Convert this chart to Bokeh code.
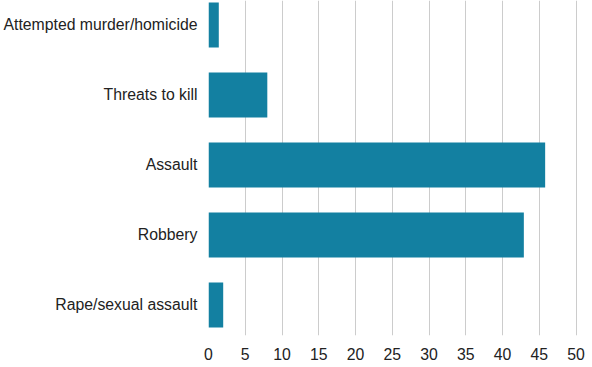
from bokeh.plotting import figure
from bokeh.models import Range1d, FixedTicker, ColumnDataSource
from bokeh.embed import file_html
from bokeh.resources import INLINE

categories = ["Attempted murder/homicide", "Threats to kill", "Assault", "Robbery", "Rape/sexual assault"]
values = [1.4, 8, 45.8, 42.9, 2]
x_ticks = [0, 5, 10, 15, 20, 25, 30, 35, 40, 45, 50]

positions = list(range(len(categories)))
source = ColumnDataSource(dict(pos=positions, val=values, cat=categories))

p = figure(width=592, height=367, output_backend="svg", toolbar_location=None,
           x_range=Range1d(0, 50.2), y_range=Range1d(4.436, -0.35),
           min_border_left=208, min_border_right=15, min_border_top=0, min_border_bottom=32)

p.hbar(y="pos", right="val", left=0, height=0.643, source=source,
       fill_color="#1380A1", line_color=None)

p.outline_line_color = None
p.background_fill_color = "white"
p.border_fill_color = "white"

p.ygrid.grid_line_color = None
p.xgrid.grid_line_color = "#cccccc"
p.xgrid.grid_line_width = 1

p.xaxis.ticker = FixedTicker(ticks=x_ticks)
p.xaxis.axis_line_color = None
p.xaxis.major_tick_line_color = None
p.xaxis.minor_tick_line_color = None
p.xaxis.major_tick_out = 0
p.xaxis.major_label_standoff = 12
p.xaxis.major_label_text_font = "Liberation Sans"
p.xaxis.major_label_text_font_size = "15.8px"
p.xaxis.major_label_text_color = "#222222"

p.yaxis.ticker = FixedTicker(ticks=positions)
p.yaxis.major_label_overrides = {i: c for i, c in zip(positions, categories)}
p.yaxis.axis_line_color = None
p.yaxis.major_tick_line_color = None
p.yaxis.minor_tick_line_color = None
p.yaxis.major_tick_out = 0
p.yaxis.major_label_standoff = 11
p.yaxis.major_label_text_font = "Liberation Sans"
p.yaxis.major_label_text_font_size = "15.8px"
p.yaxis.major_label_text_color = "#222222"

open("out.html", "w").write(file_html(p, INLINE))
